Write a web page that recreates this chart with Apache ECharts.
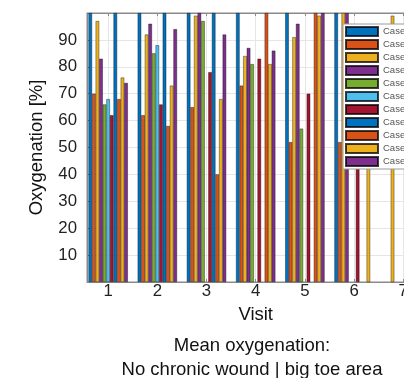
<!DOCTYPE html>
<html><head><meta charset="utf-8">
<script src="https://cdn.jsdelivr.net/npm/echarts@6/dist/echarts.min.js"></script>
<style>html,body{margin:0;padding:0;background:#fff}#c{width:404px;height:378px}</style>
</head><body><div id="c"></div>
<script>
// ---- data ----
const visits = [1, 2, 3, 4, 5, 6, 7];
const caseNames = ['Case 1','Case 2','Case 3','Case 4','Case 5','Case 6','Case 7','Case 8','Case 9','Case 10','Case 11'];
const case1  = [100, 100, 100, 100, 100, 100, null];
const case2  = [70, 62, 65, 73, 52, 52, null];
const case3  = [97, 92, 99, 84, 91, 100, 99];
const case4  = [83, 96, 100, 87, 96, 100, null];
const case5  = [66, 85, 97, 81, 57, null, null];
const case6  = [68, 88, null, null, null, null, null];
const case7  = [62, 66, 78, 83, 70, 60, null];
const case8  = [100, 100, 100, null, null, null, null];
const case9  = [68, 58, 40, 100, 100, null, null];
const case10 = [76, 73, 68, 81, 99, 75, null];
const case11 = [74, 94, 92, 86, 100, null, null];
const yTickLabels = [10, 20, 30, 40, 50, 60, 70, 80, 90];
const caseValues = [case1, case2, case3, case4, case5, case6, case7, case8, case9, case10, case11];

// ---- styles ----
const colors = ['#0072BD','#D95319','#EDB120','#7E2F8E','#77AC30','#4DBEEE','#A2142F','#0072BD','#D95319','#EDB120','#7E2F8E'];
const FONT = "'Liberation Sans', Arial, Helvetica, sans-serif";
const axisGray = '#8a8a8a';
const gridGray = '#e6e6e6';

const chart = echarts.init(document.getElementById('c'), null, {renderer: 'canvas'});

const series = caseNames.map((name, si) => ({
  name: name,
  type: 'bar',
  barGap: '0%',
  barCategoryGap: '20%',
  itemStyle: { color: colors[si], borderColor: 'rgba(0,0,0,0.75)', borderWidth: 0.5 },
  emphasis: { disabled: true },
  data: visits.map((v, i) => caseValues[si][i] == null ? null : [v, caseValues[si][i]]).filter(d => d)
}));

const isInt = v => Math.abs(v - Math.round(v)) < 1e-6;

chart.setOption({
  animation: false,
  textStyle: { fontFamily: FONT },
  grid: { left: 87, top: 13, width: 337.4, height: 269, outerBoundsMode: 'none', containLabel: false,
    show: true, borderColor: axisGray, borderWidth: 1, backgroundColor: 'transparent' },
  legend: {
    orient: 'vertical', left: 343, top: 24,
    padding: [2, 2, 2, 2],
    itemWidth: 32, itemHeight: 9, itemGap: 2,
    backgroundColor: '#fff', borderColor: '#9a9a9a', borderWidth: 1,
    icon: 'rect',
    textStyle: { fontSize: 9.5, color: '#555', fontFamily: FONT, lineHeight: 9 },
    data: caseNames
  },
  xAxis: [{
    type: 'value', min: 0.57, max: 7.43, splitNumber: 7,
    name: 'Visit', nameLocation: 'middle', nameGap: 23,
    nameTextStyle: { fontSize: 18.5, color: '#111', fontFamily: FONT },
    axisLine: { show: true, lineStyle: { color: axisGray, width: 1 } },
    axisTick: { show: true, inside: true, length: 3, lineStyle: { color: axisGray } },
    axisLabel: { margin: 1, fontSize: 16.8, color: '#222', fontFamily: FONT,
      showMinLabel: false, showMaxLabel: false,
      formatter: v => isInt(v) ? String(Math.round(v)) : '' },
    splitLine: { show: true, lineStyle: { color: gridGray, width: 1 } }
  }, {
    type: 'value', min: 0.57, max: 7.43, splitNumber: 7, position: 'top',
    axisLine: { show: true, lineStyle: { color: axisGray, width: 1 } },
    axisTick: { show: true, inside: true, length: 3, lineStyle: { color: axisGray } },
    axisLabel: { show: false }, splitLine: { show: false }
  }],
  yAxis: {
    type: 'value', min: 0, max: 100, interval: 10,
    name: 'Oxygenation [%]', nameLocation: 'middle', nameGap: 41,
    nameTextStyle: { fontSize: 18.5, color: '#111', fontFamily: FONT },
    axisLine: { show: true, lineStyle: { color: axisGray, width: 1 } },
    axisTick: { show: true, inside: true, length: 3, lineStyle: { color: axisGray } },
    axisLabel: { margin: 10, fontSize: 16.8, color: '#222', fontFamily: FONT,
      formatter: v => yTickLabels.indexOf(Math.round(v)) >= 0 ? String(Math.round(v)) : '' },
    splitLine: { show: true, lineStyle: { color: gridGray, width: 1 } }
  },
  graphic: [{
    type: 'text', x: 252, y: 334, silent: true,
    style: { text: 'Mean oxygenation:\nNo chronic wound | big toe area', fill: '#111',
      font: "18.5px 'Liberation Sans', Arial, sans-serif", align: 'center', verticalAlign: 'top', lineHeight: 24 }
  }],
  series: series
});
</script></body></html>
